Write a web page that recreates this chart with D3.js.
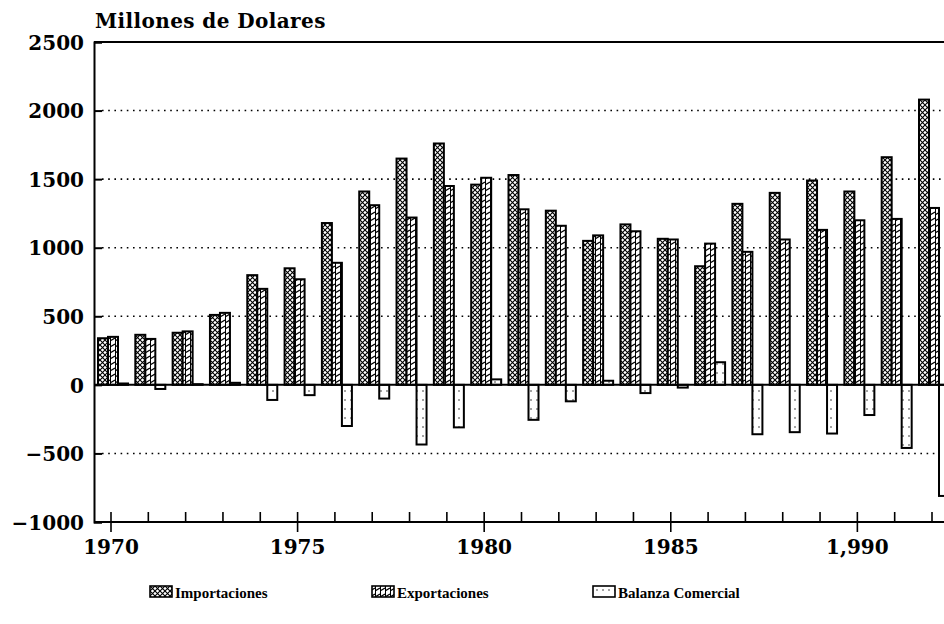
<!DOCTYPE html>
<html>
<head>
<meta charset="utf-8">
<script src="https://d3js.org/d3.v7.min.js"></script>
<style>
  body { margin: 0; background: #ffffff; }
  text {
    font-family: "DejaVu Serif", serif;
    font-weight: bold;
    fill: #000000;
  }
  .title { font-size: 20px; letter-spacing: 0.4px; }
  .tick-label { font-size: 20px; }
  .legend-label { font-family: "Liberation Serif", serif; font-size: 15px; }
  .grid { stroke: #000; stroke-width: 1.6; stroke-dasharray: 1.6 4.6; }
</style>
</head>
<body>
<div id="chart"></div>
<script>
// data (millions of dollars)
const years = [1970, 1971, 1972, 1973, 1974, 1975, 1976, 1977, 1978, 1979, 1980,
               1981, 1982, 1983, 1984, 1985, 1986, 1987, 1988, 1989, 1990, 1991, 1992];
const importaciones = [340, 365, 380, 510, 800, 850, 1180, 1410, 1650, 1760, 1460,
                       1530, 1270, 1050, 1170, 1065, 865, 1320, 1400, 1490, 1410, 1660, 2080];
const exportaciones = [350, 335, 390, 525, 700, 770, 890, 1310, 1220, 1450, 1510,
                       1280, 1160, 1090, 1120, 1060, 1030, 970, 1060, 1130, 1200, 1210, 1290];
const balanza = [10, -30, 5, 15, -110, -75, -300, -100, -435, -310, 40,
                 -255, -120, 30, -60, -20, 165, -360, -345, -355, -220, -460, -810];

const yTicks = [-1000, -500, 0, 500, 1000, 1500, 2000, 2500];
const xLabelYears = [1970, 1975, 1980, 1985, 1990];
const xLabelText = ["1970", "1975", "1980", "1985", "1,990"];
const seriesNames = ["Importaciones", "Exportaciones", "Balanza Comercial"];

const W = 944, H = 624;
const plotLeft = 94, plotRight = 944, plotTop = 42, plotBottom = 522;

const svg = d3.select("#chart").append("svg")
  .attr("width", W)
  .attr("height", H);

const x = d3.scaleLinear().domain([1970, 1992]).range([111, 932]);
const y = d3.scaleLinear().domain([-1000, 2500]).range([plotBottom, plotTop]);

// fill patterns
const defs = svg.append("defs");

const pImp = defs.append("pattern")
  .attr("id", "pat-imp")
  .attr("patternUnits", "userSpaceOnUse")
  .attr("width", 5).attr("height", 5);
pImp.append("rect").attr("width", 5).attr("height", 5).attr("fill", "#fff");
pImp.append("path")
  .attr("d", "M0,0L5,5M5,0L0,5")
  .attr("stroke", "#000").attr("stroke-width", 1.1);

const pExp = defs.append("pattern")
  .attr("id", "pat-exp")
  .attr("patternUnits", "userSpaceOnUse")
  .attr("width", 5).attr("height", 6);
pExp.append("rect").attr("width", 5).attr("height", 6).attr("fill", "#fff");
pExp.append("path")
  .attr("d", "M0,5L5,2")
  .attr("stroke", "#000").attr("stroke-width", 1.3);
pExp.append("path")
  .attr("d", "M0.5,0V6")
  .attr("stroke", "#000").attr("stroke-width", 1);

const pBal = defs.append("pattern")
  .attr("id", "pat-bal")
  .attr("patternUnits", "userSpaceOnUse")
  .attr("width", 6).attr("height", 9);
pBal.append("rect").attr("width", 6).attr("height", 9).attr("fill", "#fff");
pBal.append("circle").attr("cx", 3).attr("cy", 4).attr("r", 0.7).attr("fill", "#000");

// title
svg.append("text")
  .attr("class", "title")
  .attr("x", 95)
  .attr("y", 28)
  .text("Millones de Dolares");

// dotted gridlines
svg.append("g")
  .selectAll("line")
  .data(yTicks.filter(d => d !== 0 && d !== 2500 && d !== -1000))
  .join("line")
    .attr("class", "grid")
    .attr("x1", plotLeft + 8)
    .attr("x2", plotRight)
    .attr("y1", d => y(d))
    .attr("y2", d => y(d));

// left axis with inward ticks
const yAxis = d3.axisLeft(y)
  .tickValues(yTicks)
  .tickSize(-8)
  .tickPadding(10)
  .tickFormat(d3.format("d"));
const gy = svg.append("g")
  .attr("transform", `translate(${plotLeft},0)`)
  .call(yAxis);
gy.select(".domain").attr("stroke", "#000").attr("stroke-width", 2);
gy.selectAll(".tick line").attr("stroke", "#000").attr("stroke-width", 2);
gy.selectAll(".tick text")
  .attr("class", "tick-label")
  .attr("dy", "0.36em");
gy.attr("font-family", null).attr("font-size", null);

// top frame
svg.append("line")
  .attr("x1", plotLeft).attr("x2", plotRight)
  .attr("y1", y(2500)).attr("y2", y(2500))
  .attr("stroke", "#000").attr("stroke-width", 2);

// bottom axis: minor ticks every year, major every 5 years
const gx = svg.append("g").attr("transform", `translate(0,${plotBottom})`);
gx.append("line")
  .attr("x1", plotLeft).attr("x2", plotRight)
  .attr("stroke", "#000").attr("stroke-width", 2);
gx.selectAll("line.minor")
  .data(years)
  .join("line")
    .attr("class", "minor")
    .attr("x1", d => x(d)).attr("x2", d => x(d))
    .attr("y1", 0)
    .attr("y2", -10)
    .attr("stroke", "#000").attr("stroke-width", 1.6);
gx.selectAll("line.major")
  .data(xLabelYears)
  .join("line")
    .attr("class", "major")
    .attr("x1", d => x(d)).attr("x2", d => x(d))
    .attr("y1", 0).attr("y2", 10)
    .attr("stroke", "#000").attr("stroke-width", 1.6);
gx.selectAll("text")
  .data(xLabelYears)
  .join("text")
    .attr("class", "tick-label")
    .attr("x", d => x(d))
    .attr("y", 32)
    .attr("text-anchor", "middle")
    .text((d, i) => xLabelText[i]);

// bars
const barW = 10;
function drawBars(values, offset, fill) {
  svg.append("g")
    .selectAll("rect")
    .data(years)
    .join("rect")
      .attr("x", (d, i) => x(d) + offset)
      .attr("y", (d, i) => y(Math.max(0, values[i])))
      .attr("width", barW)
      .attr("height", (d, i) => Math.abs(y(values[i]) - y(0)))
      .attr("fill", fill)
      .attr("stroke", "#000")
      .attr("stroke-width", 2);
}
drawBars(importaciones, -13, "url(#pat-imp)");
drawBars(exportaciones, -3, "url(#pat-exp)");
drawBars(balanza, 7, "url(#pat-bal)");

// zero line
svg.append("line")
  .attr("x1", plotLeft).attr("x2", plotRight)
  .attr("y1", y(0)).attr("y2", y(0))
  .attr("stroke", "#000").attr("stroke-width", 2);

// legend
const legendX = [150, 372, 593];
const legendFill = ["url(#pat-imp)", "url(#pat-exp)", "url(#pat-bal)"];
const lg = svg.append("g").attr("transform", "translate(0,586)");
lg.selectAll("rect")
  .data(seriesNames)
  .join("rect")
    .attr("x", (d, i) => legendX[i])
    .attr("y", 0)
    .attr("width", 22)
    .attr("height", 11)
    .attr("fill", (d, i) => legendFill[i])
    .attr("stroke", "#000")
    .attr("stroke-width", 1.6);
lg.selectAll("text")
  .data(seriesNames)
  .join("text")
    .attr("class", "legend-label")
    .attr("x", (d, i) => legendX[i] + 25)
    .attr("y", 12)
    .text(d => d);
</script>
</body>
</html>
